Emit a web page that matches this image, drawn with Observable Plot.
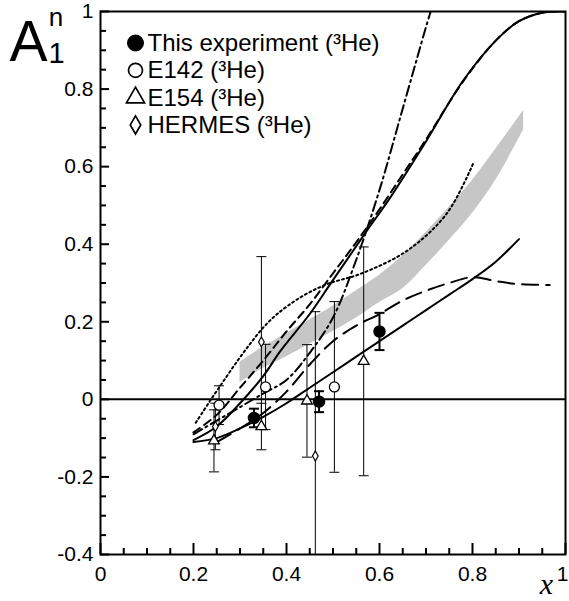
<!DOCTYPE html>
<html><head><meta charset="utf-8">
<script src="https://cdn.jsdelivr.net/npm/d3@7"></script>
<script src="https://cdn.jsdelivr.net/npm/@observablehq/plot@0.6"></script>
<style>body{margin:0;background:#fff}</style>
</head><body><div id="chart"></div>
<script>
// ---- tick labels ----
const xTickValues = [0, 0.2, 0.4, 0.6, 0.8, 1];
const xTickLabels = ["0", "0.2", "0.4", "0.6", "0.8", "1"];
const yTickValues = [-0.4, -0.2, 0, 0.2, 0.4, 0.6, 0.8, 1];
const yTickLabels = ["-0.4", "-0.2", "0", "0.2", "0.4", "0.6", "0.8", "1"];

// ---- data: This experiment (3He) ----
const thisX = [0.33, 0.47, 0.60];
const thisY = [-0.048, -0.006, 0.175];
const thisErr = [0.024, 0.027, 0.048];

// ---- E142 (3He) ----
const e142X = [0.255, 0.355, 0.503];
const e142Y = [-0.015, 0.032, 0.032];
const e142Err = [0.05, 0.11, 0.22];

// ---- E154 (3He) ----
const e154X = [0.244, 0.346, 0.444, 0.566];
const e154Y = [-0.107, -0.07, -0.004, 0.098];
const e154Err = [0.08, 0.06, 0.145, 0.295];

// ---- HERMES (3He) ----
const hermesX = [0.247, 0.346, 0.462];
const hermesY = [-0.07, 0.148, -0.146];
const hermesErr = [0.06, 0.22, 0.372];

// ---- theory curves ----
const solidUpX = [0.2, 0.25, 0.3, 0.35, 0.387, 0.45, 0.494, 0.573, 0.623, 0.7, 0.78, 0.85, 0.9, 0.95, 1.0];
const solidUpY = [-0.105, -0.07, -0.01, 0.06, 0.125, 0.22, 0.297, 0.435, 0.52, 0.665, 0.822, 0.925, 0.975, 0.997, 1.0];

const dashX = [0.2, 0.25, 0.3, 0.35, 0.4, 0.45, 0.5, 0.55, 0.6, 0.65, 0.7, 0.78, 0.85, 0.9, 0.95, 1.0];
const dashY = [-0.085, -0.04, 0.03, 0.1, 0.175, 0.245, 0.325, 0.405, 0.49, 0.58, 0.67, 0.82, 0.925, 0.975, 0.997, 1.0];

const dashDotX = [0.2, 0.25, 0.3, 0.35, 0.4, 0.45, 0.5, 0.55, 0.6, 0.65, 0.7, 0.71];
const dashDotY = [-0.09, -0.055, -0.02, 0.015, 0.05, 0.12, 0.211, 0.36, 0.54, 0.75, 0.96, 1.0];

const dotX = [0.205, 0.235, 0.265, 0.295, 0.323, 0.35, 0.38, 0.43, 0.487, 0.558, 0.659, 0.744, 0.801];
const dotY = [-0.06, -0.005, 0.048, 0.1, 0.145, 0.185, 0.22, 0.263, 0.297, 0.323, 0.383, 0.478, 0.607];

const longDashX = [0.25, 0.3, 0.35, 0.4, 0.45, 0.5, 0.55, 0.6, 0.65, 0.7, 0.75, 0.8, 0.85, 0.9, 0.966];
const longDashY = [-0.11, -0.075, -0.035, 0.02, 0.09, 0.15, 0.19, 0.22, 0.255, 0.28, 0.3, 0.315, 0.305, 0.297, 0.295];

const solidLowX = [0.2, 0.25, 0.3, 0.35, 0.4, 0.45, 0.5, 0.55, 0.6, 0.65, 0.7, 0.75, 0.8, 0.85, 0.9];
const solidLowY = [-0.11, -0.1, -0.075, -0.045, -0.01, 0.03, 0.07, 0.11, 0.15, 0.19, 0.23, 0.27, 0.31, 0.355, 0.413];

// grey band
const bandX = [0.30, 0.35, 0.40, 0.45, 0.50, 0.55, 0.60, 0.65, 0.70, 0.75, 0.80, 0.85, 0.91];
const bandTop = [0.095, 0.135, 0.17, 0.205, 0.24, 0.28, 0.32, 0.37, 0.43, 0.495, 0.565, 0.645, 0.745];
const bandBottom = [0.043, 0.08, 0.11, 0.143, 0.175, 0.21, 0.25, 0.285, 0.345, 0.41, 0.48, 0.565, 0.695];

const legendLabels = ["This experiment (\u00B3He)", "E142 (\u00B3He)", "E154 (\u00B3He)", "HERMES (\u00B3He)"];
const legendSymbols = ["circle", "circle", "triangle", "diamond"];
const legendFills = ["black", "none", "none", "none"];

// ---- build tables ----
const pts = (xs, ys, es) => xs.map((x, i) => ({x, y: ys[i], lo: ys[i] - es[i], hi: ys[i] + es[i]}));
const thisData = pts(thisX, thisY, thisErr);
const e142Data = pts(e142X, e142Y, e142Err);
const e154Data = pts(e154X, e154Y, e154Err);
const hermesData = pts(hermesX, hermesY, hermesErr);
const curve = (xs, ys) => xs.map((x, i) => ({x, y: ys[i]}));
const band = bandX.map((x, i) => ({x, y1: bandBottom[i], y2: bandTop[i]}));

const capSymbol = (w) => ({draw(ctx, size) { ctx.moveTo(-w, 0); ctx.lineTo(w, 0); }});
const caps = (data) => data.flatMap(d => [{x: d.x, y: d.lo}, {x: d.x, y: d.hi}]);

const W = 569, H = 601, ML = 100, MR = 4, MT = 11, MB = 47;
const FW = W - ML - MR, FH = H - MT - MB;
const font = "'Liberation Sans', Arial, Helvetica, sans-serif";

const xMinor = d3.range(0, 1.0001, 0.05).map(v => +v.toFixed(2)).filter(v => !xTickValues.some(t => Math.abs(t - v) < 1e-6));
const yMinor = d3.range(-0.4, 1.0001, 0.05).map(v => +v.toFixed(2)).filter(v => !yTickValues.some(t => Math.abs(t - v) < 1e-6));

const legendR = [8, 7, 6.7, 5.5];
const legendMarks = legendLabels.flatMap((lab, i) => [
  Plot.dot([lab], {frameAnchor: "top-left", dx: 35, dy: 31.5 + i * 27.3,
    symbol: legendSymbols[i], r: legendR[i],
    fill: legendFills[i], stroke: "black", strokeWidth: i === 0 ? 1 : 1.7}),
  Plot.text([lab], {frameAnchor: "top-left", lineAnchor: "middle", dx: 47, dy: 32 + i * 27.3, text: d => d,
    textAnchor: "start", fontSize: 24, fill: "black"})
]);

const lastX = xTickValues.length - 1;

const chart = Plot.plot({
  width: W, height: H,
  marginLeft: ML, marginRight: MR, marginTop: MT, marginBottom: MB,
  x: {domain: [0, 1]},
  y: {domain: [-0.4, 1]},
  style: {fontFamily: font, background: "white", overflow: "visible"},
  marks: [
    Plot.areaY(band, {x: "x", y1: "y1", y2: "y2", fill: "#c6c6c6", curve: "catmull-rom"}),
    Plot.ruleY([0], {stroke: "black", strokeWidth: 2}),
    // theory curves
    Plot.line(curve(solidLowX, solidLowY), {x: "x", y: "y", stroke: "black", strokeWidth: 2, curve: "catmull-rom"}),
    Plot.line(curve(longDashX, longDashY), {x: "x", y: "y", stroke: "black", strokeWidth: 2, strokeDasharray: "16,8", curve: "catmull-rom"}),
    Plot.line(curve(dotX, dotY), {x: "x", y: "y", stroke: "black", strokeWidth: 2, strokeDasharray: "2,3", curve: "catmull-rom"}),
    Plot.line(curve(dashDotX, dashDotY), {x: "x", y: "y", stroke: "black", strokeWidth: 2, strokeDasharray: "10,4,2,4", curve: "catmull-rom", clip: true}),
    Plot.line(curve(dashX, dashY), {x: "x", y: "y", stroke: "black", strokeWidth: 2, strokeDasharray: "8,5", curve: "catmull-rom", clip: true}),
    Plot.line(curve(solidUpX, solidUpY), {x: "x", y: "y", stroke: "black", strokeWidth: 2, curve: "catmull-rom", clip: true}),
    // error bars
    Plot.ruleX(e142Data, {x: "x", y1: "lo", y2: "hi", stroke: "black", strokeWidth: 1, clip: true}),
    Plot.dot(caps(e142Data), {x: "x", y: "y", symbol: capSymbol(5), stroke: "black", strokeWidth: 1, clip: true}),
    Plot.ruleX(e154Data, {x: "x", y1: "lo", y2: "hi", stroke: "black", strokeWidth: 1, clip: true}),
    Plot.dot(caps(e154Data), {x: "x", y: "y", symbol: capSymbol(5), stroke: "black", strokeWidth: 1, clip: true}),
    Plot.ruleX(hermesData, {x: "x", y1: "lo", y2: "hi", stroke: "black", strokeWidth: 1, clip: true}),
    Plot.dot(caps(hermesData), {x: "x", y: "y", symbol: capSymbol(5), stroke: "black", strokeWidth: 1, clip: true}),
    Plot.ruleX(thisData, {x: "x", y1: "lo", y2: "hi", stroke: "black", strokeWidth: 2}),
    Plot.dot(caps(thisData), {x: "x", y: "y", symbol: capSymbol(5), stroke: "black", strokeWidth: 2}),
    // points
    Plot.dot(e142Data, {x: "x", y: "y", r: 5, fill: "white", stroke: "black", strokeWidth: 1.3}),
    Plot.dot(e154Data, {x: "x", y: "y", symbol: "triangle", r: 4, fill: "white", stroke: "black", strokeWidth: 1.3}),
    Plot.dot(hermesData, {x: "x", y: "y", symbol: "diamond", r: 3, fill: "white", stroke: "black", strokeWidth: 1.2}),
    Plot.dot(thisData, {x: "x", y: "y", r: 5.5, fill: "black", stroke: "black"}),
    // frame + inward ticks
    Plot.frame({stroke: "black", strokeWidth: 2}),
    Plot.tickX(xTickValues, {x: d => d, stroke: "black", strokeWidth: 2, insetTop: FH - 11}),
    Plot.tickX(xMinor, {x: d => d, stroke: "black", strokeWidth: 2, insetTop: FH - 6}),
    Plot.tickY(yTickValues, {y: d => d, stroke: "black", strokeWidth: 2, insetRight: FW - 9}),
    Plot.tickY(yMinor, {y: d => d, stroke: "black", strokeWidth: 2, insetRight: FW - 6}),
    Plot.axisX(xTickValues.slice(0, lastX), {tickSize: 0, tickPadding: 12, label: null, tickFormat: (d, i) => xTickLabels[i], fontSize: 21, fill: "black"}),
    Plot.axisX(xTickValues.slice(lastX), {tickSize: 0, tickPadding: 12, label: null, dx: -3, tickFormat: () => xTickLabels[lastX], fontSize: 21, fill: "black"}),
    Plot.axisY(yTickValues, {tickSize: 0, tickPadding: 7, label: null, tickFormat: (d, i) => yTickLabels[i], fontSize: 21, fill: "black"}),
    // axis titles
    Plot.text(["A"], {frameAnchor: "top-left", lineAnchor: "middle", dx: -72, dy: 31, text: d => d, fontSize: 57, textAnchor: "middle"}),
    Plot.text(["n"], {frameAnchor: "top-left", lineAnchor: "middle", dx: -44.5, dy: 6, text: d => d, fontSize: 26, textAnchor: "middle"}),
    Plot.text(["1"], {frameAnchor: "top-left", lineAnchor: "middle", dx: -44, dy: 42, text: d => d, fontSize: 29, textAnchor: "middle"}),
    Plot.text(["x"], {frameAnchor: "bottom-right", lineAnchor: "middle", dx: -19, dy: 30, text: d => d, fontSize: 30, fontStyle: "italic",
      fontFamily: "'Liberation Serif', 'Times New Roman', serif", textAnchor: "middle"}),
    ...legendMarks
  ]
});
document.getElementById("chart").appendChild(chart);
</script>
</body></html>
